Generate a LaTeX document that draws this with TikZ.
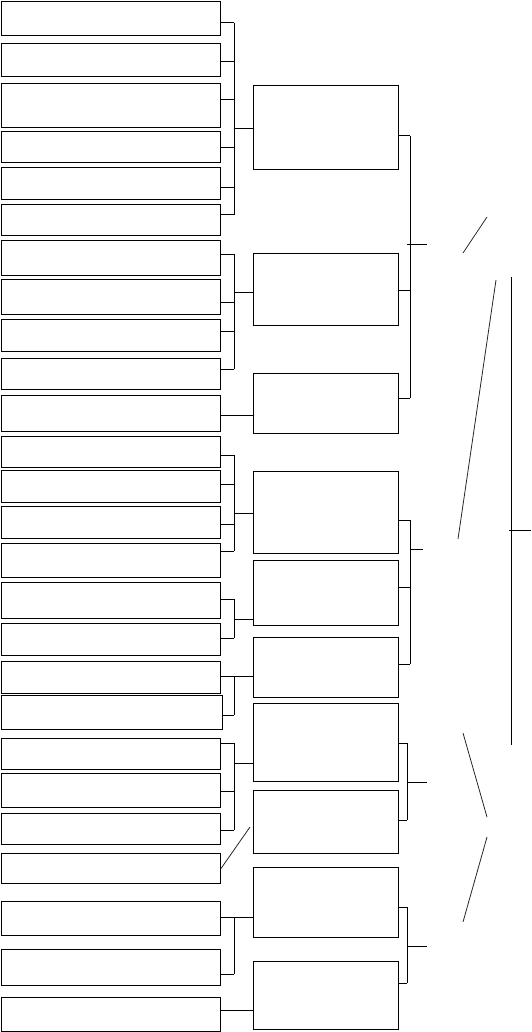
\documentclass[tikz,border=0pt]{standalone}
\usetikzlibrary{calc}

\tikzset{
  leaf/.style={draw, line width=1pt, minimum width=219, inner sep=0pt},
  midbox/.style={draw, line width=1pt, minimum width=145, inner sep=0pt},
  link/.style={line width=1pt},
  slant/.style={line width=0.8pt, black!85}
}

\begin{document}
\begin{tikzpicture}[x=1pt, y=-1pt]
  \useasboundingbox (0,0) rectangle (531,1032);

  % ── Left column boxes ───────────────────────────────────────────────
  \foreach \n/\t/\h in {1/1/34, 2/43/33, 3/83/44, 4/131/31, 5/167/32,
      6/204/31, 7/240/35, 8/279/35, 9/319/32, 10/358/31, 11/395/36,
      12/436/31, 13/470/32, 14/506/32, 15/543/34, 16/582/36, 17/623/32,
      18/661/32, 20/738/31, 21/773/34, 22/813/31, 23/853/30, 24/901/34,
      25/949/36, 26/997/34} {
    \node[leaf, minimum height=\h, anchor=north west] (l\n) at (1,\t) {};
  }
  \node[leaf, minimum width=221, minimum height=34, anchor=north west] (l19) at (1,695) {};

  % ── Middle column boxes ─────────────────────────────────────────────
  \foreach \n/\t/\h in {1/85/84, 2/253/72, 3/373/60, 4/471/82, 5/560/65,
      6/637/60, 7/703/78, 8/790/63, 9/867/70, 10/961/68} {
    \node[midbox, minimum height=\h, anchor=north west] (m\n) at (253,\t) {};
  }

  % ── Left brackets ───────────────────────────────────────────────────
  \foreach \n/\y in {1/23, 2/62, 3/100, 4/148, 5/188, 6/215,
      7/254, 8/302, 9/331, 10/369, 12/455, 13/484, 14/524, 15/551,
      16/599, 17/638, 18/676, 19/715, 20/743, 21/791, 22/830,
      24/917, 25/974} {
    \draw[link] (l\n.east |- 0,\y) -- (234,\y);
  }
  \draw[link] (234,23) -- (234,215);
  \draw[link] (234,254) -- (234,369);
  \draw[link] (234,455) -- (234,551);
  \draw[link] (234,599) -- (234,638);
  \draw[link] (234,676) -- (234,715);
  \draw[link] (234,743) -- (234,830);
  \draw[link] (234,917) -- (234,974);

  % joins into the middle boxes
  \draw[link] (234,129) -- (m1.west |- 0,129);
  \draw[link] (234,292) -- (m2.west |- 0,292);
  \draw[link] (l11.east |- 0,415) -- (m3.west |- 0,415);
  \draw[link] (234,513) -- (m4.west |- 0,513);
  \draw[link] (234,619) -- (m5.west |- 0,619);
  \draw[link] (234,676) -- (m6.west |- 0,676);
  \draw[link] (234,763) -- (m7.west |- 0,763);
  \draw[slant] (l23.east) -- ($(m8.west)+(-3,5)$);
  \draw[link] (234,917) -- (m9.west |- 0,917);
  \draw[link] (l26.east |- 0,1010) -- (m10.west |- 0,1010);

  % ── Right brackets ──────────────────────────────────────────────────
  \foreach \n/\y/\x in {1/136/410, 2/290/410, 3/398/410,
      4/520/410, 5/587/410, 6/664/410,
      7/743/407, 8/820/407, 9/907/407, 10/983/407} {
    \draw[link] (m\n.east |- 0,\y) -- (\x,\y);
  }
  \draw[link] (410,136) -- (410,398);
  \draw[link] (407,244) -- (427,244);
  \draw[link] (410,520) -- (410,664);
  \draw[link] (410,549) -- (423,549);
  \draw[link] (407,743) -- (407,820);
  \draw[link] (407,782) -- (427,782);
  \draw[link] (407,907) -- (407,983);
  \draw[link] (407,946) -- (427,946);

  % ── Far right ───────────────────────────────────────────────────────
  \coordinate (top) at (511,277);
  \coordinate (bot) at (511,745);
  \draw[link] (top) -- (bot);
  \draw[link] (509,530) -- (531,530);

  \draw[slant] (463,253) -- (487,217);
  \draw[slant] (496,280) -- (458,539);
  \draw[slant] (463,733) -- (487,817);
  \draw[slant] (487,837) -- (463,922);
\end{tikzpicture}
\end{document}
